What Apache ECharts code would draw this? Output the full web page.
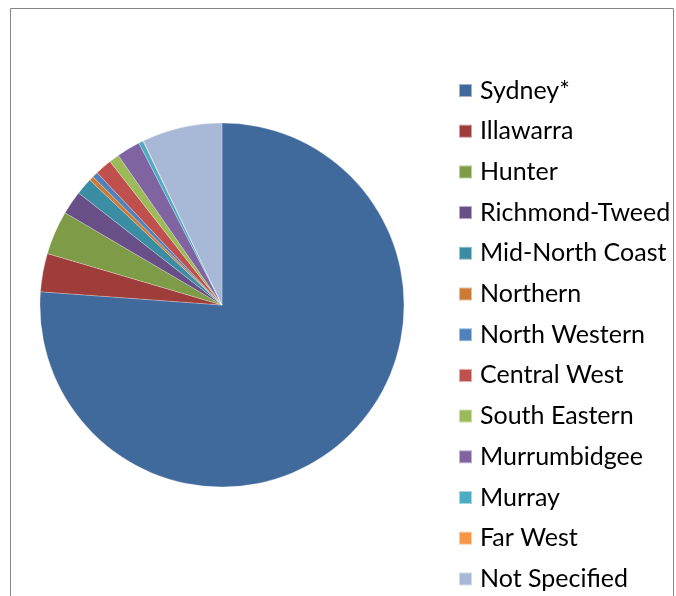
<!DOCTYPE html>
<html>
<head>
<meta charset="utf-8">
<script src="https://cdn.jsdelivr.net/npm/echarts@6/dist/echarts.min.js"></script>
<style>html,body{margin:0;padding:0;background:#fff;}#c{width:676px;height:596px;}</style>
</head>
<body>
<div id="c"></div>
<script>
var categories = ['Sydney*','Illawarra','Hunter','Richmond-Tweed','Mid-North Coast','Northern','North Western','Central West','South Eastern','Murrumbidgee','Murray','Far West','Not Specified'];
var values = [76.2, 3.4, 3.9, 2.1, 1.5, 0.4, 0.5, 1.5, 0.9, 2.1, 0.4, 0.05, 7.1];
var colors = ['#40699C','#9F3D3A','#7E9B48','#694F87','#3A8DA3','#CD7A35','#4F81BD','#C0504D','#9BBB59','#8064A2','#4BACC6','#F79646','#A8B9D8'];

var chart = echarts.init(document.getElementById('c'), null, {renderer:'canvas'});
chart.setOption({
  animation: false,
  backgroundColor: '#fff',
  color: colors,
  graphic: [{
    type: 'rect', shape: {x: 10.5, y: 8.5, width: 663, height: 600},
    style: {fill: 'none', stroke: '#868686', lineWidth: 1}, silent: true
  }],
  legend: {
    orient: 'vertical', left: 458, top: 78, height: 580, padding: 0,
    itemWidth: 13, itemHeight: 13, itemGap: 15.7,
    icon: 'rect',
    textStyle: {fontFamily: 'Lato', fontSize: 25, color: '#000', lineHeight: 25, padding: [0,0,0,3]},
    data: categories
  },
  series: [{
    type: 'pie', center: [222, 305], radius: 182,
    startAngle: 90, clockwise: true,
    label: {show: false}, labelLine: {show: false},
    itemStyle: {borderColor: 'rgba(255,255,255,0.5)', borderWidth: 0.5},
    emphasis: {disabled: true},
    data: categories.map(function(n, i){ return {name: n, value: values[i]}; })
  }]
});
</script>
</body>
</html>
